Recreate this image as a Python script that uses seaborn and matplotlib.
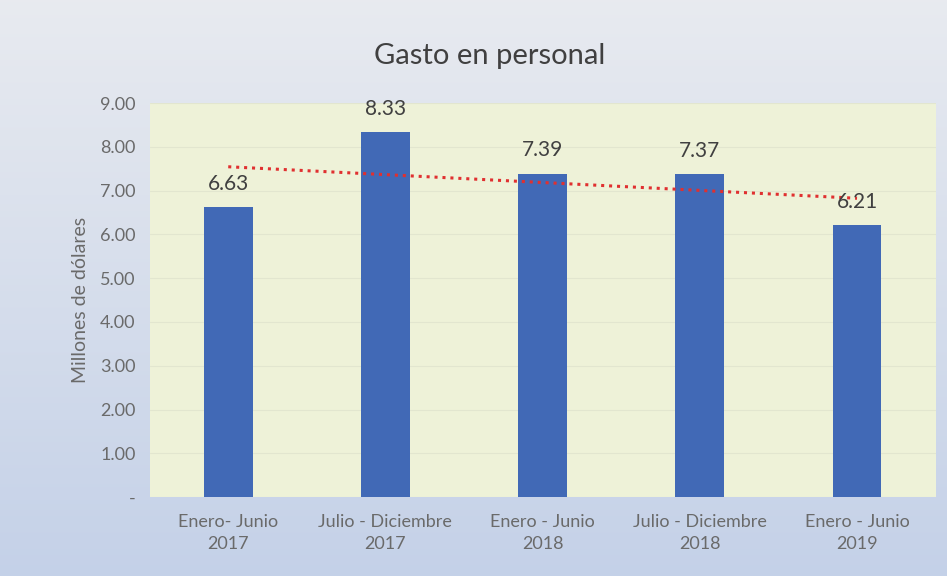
import numpy as np
import pandas as pd
import seaborn as sns
import matplotlib.pyplot as plt
from matplotlib.ticker import FuncFormatter, MultipleLocator

periods = ["Enero- Junio\n2017", "Julio - Diciembre\n2017", "Enero - Junio\n2018",
           "Julio - Diciembre\n2018", "Enero - Junio\n2019"]
gasto = [6.63, 8.33, 7.39, 7.37, 6.21]

df = pd.DataFrame({"periodo": periods, "gasto": gasto})

sns.set_style("white")
plt.rcParams['font.family'] = ['Lato', 'DejaVu Sans']

fig = plt.figure(figsize=(9.47, 5.76), dpi=100)

# background gradient (light grey-blue, darker toward the bottom)
bg = fig.add_axes([0, 0, 1, 1], zorder=-10)
grad = np.linspace(0, 1, 256).reshape(-1, 1)
top = np.array([0.91, 0.92, 0.94])
bot = np.array([0.77, 0.82, 0.91])
img = top + (bot - top) * grad[:, :, None]
bg.imshow(img, aspect="auto", extent=[0, 1, 0, 1])
bg.axis("off")

ax = fig.add_axes([0.158, 0.137, 0.83, 0.684])
ax.set_facecolor("#eef2d8")

sns.barplot(data=df, x="periodo", y="gasto", color="#4169b6", saturation=1,
            width=0.31, edgecolor="none", linewidth=0, ax=ax, zorder=3)
# linear trend line (as in the original spreadsheet chart)
sns.regplot(x=np.arange(len(gasto)), y=gasto, scatter=False, ci=None, ax=ax,
            line_kws=dict(color="#e03030", linestyle=(0, (1, 1.6)), linewidth=2.2, zorder=4))

for i, v in enumerate(gasto):
    ax.text(i, v + 0.3, f"{v:.2f}", ha="center", va="bottom", fontsize=15, color="#404040", zorder=5)

ax.set_ylim(0, 9)
ax.set_xlim(-0.5, 4.5)
ax.yaxis.set_major_locator(MultipleLocator(1))
ax.yaxis.set_major_formatter(FuncFormatter(lambda y, p: "-" if y == 0 else f"{y:.2f}"))
ax.grid(axis="y", color="#e2e6cf", linewidth=0.8, zorder=0)
ax.set_axisbelow(True)
for s in ax.spines.values():
    s.set_visible(False)
ax.tick_params(axis="y", length=0, labelsize=13, labelcolor="#6a6a6a", pad=10)
ax.tick_params(axis="x", length=0, labelsize=13, labelcolor="#6a6a6a", pad=12)
for lbl in ax.get_xticklabels():
    lbl.set_linespacing(1.5)
ax.set_xlabel("")
ax.set_ylabel("Millones de dólares", fontsize=14, color="#6a6a6a", labelpad=8)
fig.suptitle("Gasto en personal", x=0.517, y=0.925, fontsize=21, color="#404040")

plt.savefig("out.png", dpi=100)
